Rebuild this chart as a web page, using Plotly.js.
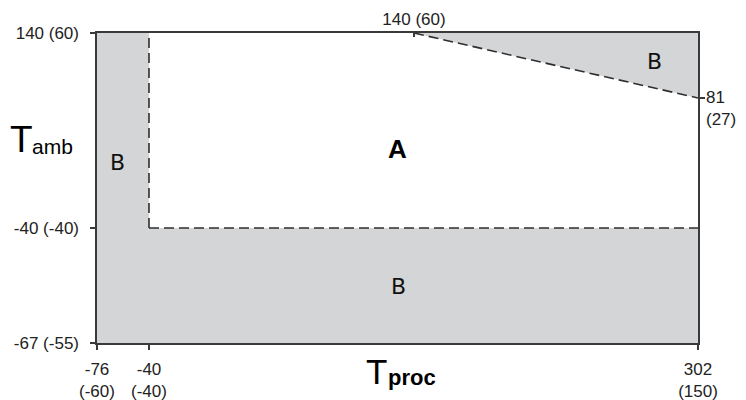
<!DOCTYPE html>
<html>
<head>
<meta charset="utf-8">
<script src="https://cdn.plot.ly/plotly-3.0.1.min.js"></script>
<style>html,body{margin:0;padding:0;background:#fff}#chart{width:746px;height:400px}</style>
</head>
<body>
<div id="chart"></div>
<script>
// ---- data (°F, with °C in labels) ----
const xTickValues = [-76, -40, 302];
const xTickLabels = ['-76<br>(-60)', '-40<br>(-40)', '302<br>(150)'];
const xTopTickValues = [140];
const xTopTickLabels = ['140 (60)'];
const yTickValues = [-67, -40, 140];
const yTickLabels = ['-67 (-55)', '-40 (-40)', '140 (60)'];
const yRightTickValues = [81];
const yRightTickLabels = ['81<br>(27)'];

// zone B regions (polygons in °F)
const bLeftX = [-76, -40, -40, -76];
const bLeftY = [-40, -40, 140, 140];
const bBottomX = [-76, 302, 302, -76];
const bBottomY = [-67, -67, -40, -40];
const bTopX = [140, 302, 302];
const bTopY = [140, 140, 81];

// zone boundaries (dashed)
const vLineX = [-40, -40];
const vLineY = [-40, 140];
const hLineX = [-40, 302];
const hLineY = [-40, -40];
const dLineX = [140, 302];
const dLineY = [140, 81];

const zoneLabels = ['A', 'B', 'B', 'B'];

// ---- schematic (non-linear) axis scale: break temperatures -> axis units ----
const X_SCALE_FROM = [-76, -40, 140, 302];
const X_SCALE_TO   = [0, 52, 317, 601];
const Y_SCALE_FROM = [-67, -40, 81, 140];
const Y_SCALE_TO   = [0, 115, 245, 310];
function interp(v, from, to) {
  for (let i = 0; i < from.length - 1; i++) {
    if (v <= from[i + 1] || i === from.length - 2) {
      return to[i] + (v - from[i]) * (to[i + 1] - to[i]) / (from[i + 1] - from[i]);
    }
  }
}
const sx = a => a.map(v => interp(v, X_SCALE_FROM, X_SCALE_TO));
const sy = a => a.map(v => interp(v, Y_SCALE_FROM, Y_SCALE_TO));

const GRAY = '#d4d5d7';
const LINE = '#3a3a3a';
const DASH = '#2e2e2e';

function fillTrace(x, y) {
  return {x: sx(x), y: sy(y), type: 'scatter', mode: 'lines', fill: 'toself',
    fillcolor: GRAY, line: {width: 0}, hoverinfo: 'skip', showlegend: false};
}
function dashTrace(x, y) {
  return {x: sx(x), y: sy(y), type: 'scatter', mode: 'lines',
    line: {color: DASH, width: 1.6, dash: '10px,5px'}, hoverinfo: 'skip', showlegend: false};
}

const traces = [
  fillTrace(bLeftX, bLeftY),
  fillTrace(bBottomX, bBottomY),
  fillTrace(bTopX, bTopY),
  dashTrace(vLineX, vLineY),
  dashTrace(hLineX, hLineY),
  dashTrace(dLineX, dLineY),
  {x: sx(xTopTickValues), y: sy(yRightTickValues), xaxis: 'x2', yaxis: 'y2', type: 'scatter',
    mode: 'markers', marker: {opacity: 0}, hoverinfo: 'skip', showlegend: false}
];

const W = 746, H = 400, L = 97, R = 48, T = 33, B = 57;
const px = p => (p - L) / (W - L - R);
const py = p => 1 - (p - T) / (H - T - B);

const tickFont = {family: 'Liberation Sans, Arial, sans-serif', size: 17, color: '#222'};
const labFont = {family: 'DejaVu Sans, Verdana, sans-serif', size: 22, color: '#111'};
const aFont = {family: 'Liberation Sans, Arial, sans-serif', size: 26, color: '#000'};

const axisCommon = {
  showgrid: false, zeroline: false, showline: true, linecolor: LINE, linewidth: 1.6,
  ticks: 'outside', ticklen: 5, tickwidth: 1.4, tickcolor: LINE, tickfont: tickFont,
  fixedrange: true
};

function ann(text, xp, yp, font, xanchor) {
  return {text: text, x: px(xp), y: py(yp), xref: 'paper', yref: 'paper',
    xanchor: xanchor || 'center', yanchor: 'middle', showarrow: false, font: font};
}

const layout = {
  width: W, height: H,
  margin: {l: L, r: R, t: T, b: B, pad: 0},
  paper_bgcolor: '#fff', plot_bgcolor: '#fff',
  showlegend: false,
  xaxis: Object.assign({}, axisCommon, {range: [X_SCALE_TO[0], X_SCALE_TO[3]],
    tickmode: 'array', tickvals: sx(xTickValues), ticktext: xTickLabels, mirror: true,
    ticklabelstandoff: 5}),
  xaxis2: Object.assign({}, axisCommon, {range: [X_SCALE_TO[0], X_SCALE_TO[3]],
    overlaying: 'x', side: 'top', anchor: 'y', ticks: 'inside', ticklen: 4,
    tickmode: 'array', tickvals: sx(xTopTickValues), ticktext: xTopTickLabels}),
  yaxis: Object.assign({}, axisCommon, {range: [Y_SCALE_TO[0], Y_SCALE_TO[3]],
    tickmode: 'array', tickvals: sy(yTickValues), ticktext: yTickLabels, mirror: true,
    ticklabelstandoff: 8}),
  yaxis2: Object.assign({}, axisCommon, {range: [Y_SCALE_TO[0], Y_SCALE_TO[3]],
    overlaying: 'y', side: 'right', anchor: 'x',
    tickmode: 'array', tickvals: sy(yRightTickValues), ticktext: ['']}),
  annotations: [
    ann('<b>' + zoneLabels[0] + '</b>', 397, 149, aFont),
    ann(zoneLabels[1], 117, 162, labFont),
    ann(zoneLabels[2], 398, 286, labFont),
    ann(zoneLabels[3], 654, 62, labFont),
    {text: yRightTickLabels[0], x: sx([302])[0], y: sy(yRightTickValues)[0], xref: 'x', yref: 'y',
      xanchor: 'left', yanchor: 'top', align: 'left', xshift: 6, yshift: 12, showarrow: false, font: tickFont},
    // axis titles: T with subscript
    ann('T', 8, 139, {family: 'Liberation Sans Narrow, Liberation Sans, Arial, sans-serif', size: 37, color: '#000'}, 'left'),
    ann('amb', 30, 146, {family: 'Liberation Sans, Arial, sans-serif', size: 21, color: '#000'}, 'left'),
    ann('T', 364, 371, {family: 'Liberation Sans Narrow, Liberation Sans, Arial, sans-serif', size: 35, color: '#000'}, 'left'),
    ann('<b>proc</b>', 386, 378, {family: 'Liberation Sans, Arial, sans-serif', size: 22, color: '#000'}, 'left')
  ]
};

Plotly.newPlot('chart', traces, layout, {staticPlot: true, displayModeBar: false});
</script>
</body>
</html>
